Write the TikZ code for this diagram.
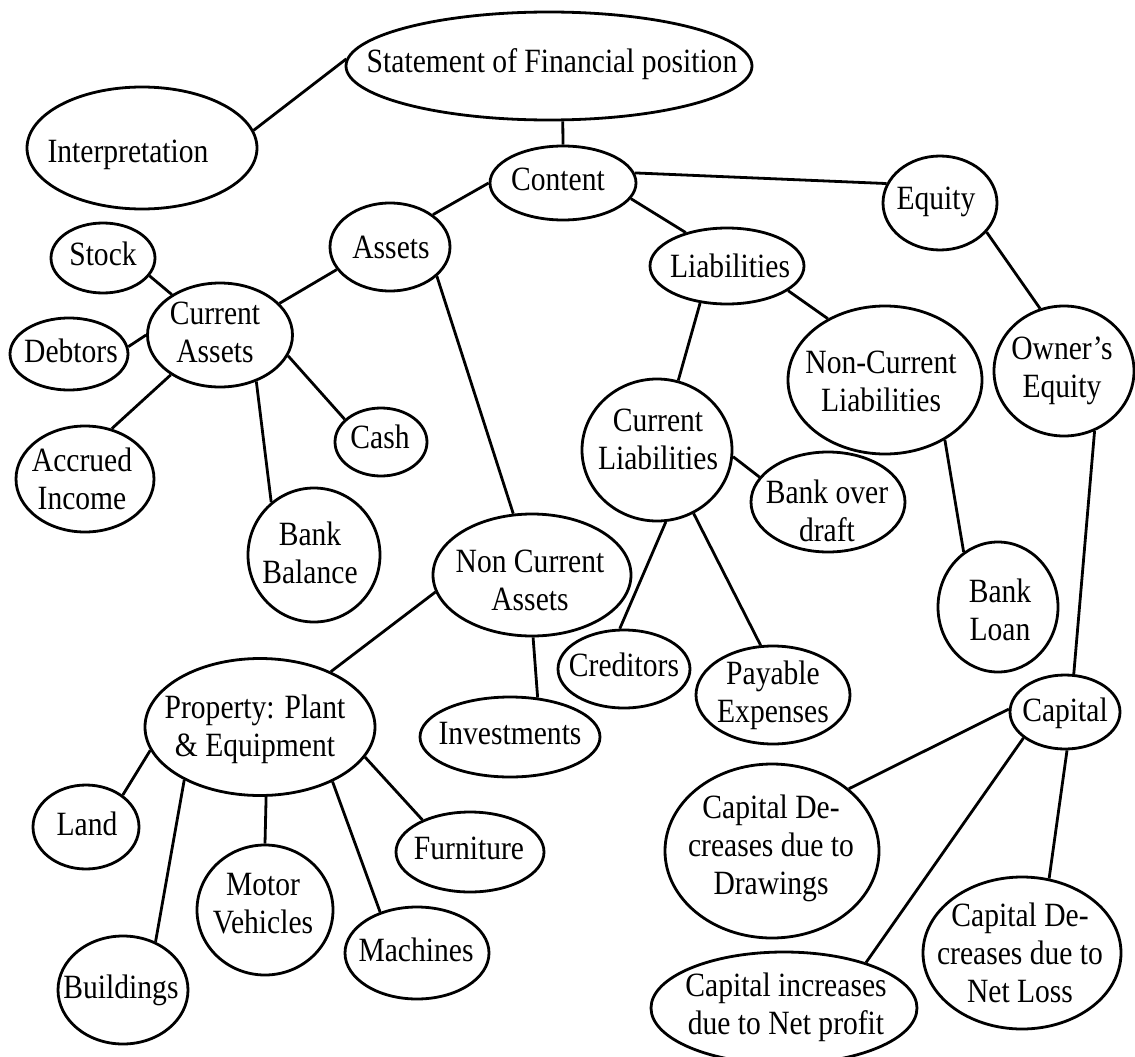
\documentclass[tikz,border=0pt]{standalone}
\usepackage{fontspec}
\setmainfont{Liberation Serif}[FakeStretch=0.87]
\usetikzlibrary{shapes.geometric}

% one bubble: name, centre, width, height, text position, text
\newcommand{\mkbubble}[6]{%
  \node[bubble={#3}{#4}] (#1) at (#2) {};
  \node[lbl] (#1-t) at (#5) {#6};}

\begin{document}
\begin{tikzpicture}[x=1pt,y=-1pt,
  bubble/.style 2 args={draw, ellipse, line width=2.8pt,
    minimum width=#1, minimum height=#2, inner sep=0pt},
  lbl/.style={align=center, font=\fontsize{34}{38}\selectfont, inner sep=0pt},
  link/.style={line width=2.8pt}]
\useasboundingbox (0,0) rectangle (1135,1057);

% top of the map
\mkbubble{sfp}{549,66}{406}{108}{552,64}{Statement of Financial position}
\mkbubble{interp}{142,148}{230}{122}{128,155}{Interpretation}
\mkbubble{content}{563,183}{146}{74}{558,179}{Content}
\mkbubble{assets}{390,247}{120}{88}{391,247}{Assets}
\mkbubble{liab}{727,266}{154}{76}{730,266}{Liabilities}
\mkbubble{equity}{940,203}{114}{94}{936,202}{Equity}

% assets branch
\mkbubble{stock}{103,258}{104}{70}{103,254}{Stock}
\mkbubble{curassets}{220,335}{145}{104}{215,332}{Current\\Assets}
\mkbubble{debtors}{69,354}{118}{72}{71,351}{Debtors}
\mkbubble{accrued}{85,479}{138}{106}{82,479}{Accrued\\Income}
\mkbubble{cash}{381,442}{92}{68}{380,437}{Cash}
\mkbubble{bankbal}{314,555}{132}{134}{310,553}{Bank\\Balance}
\mkbubble{nca}{532,575}{198}{122}{530,580}{Non Current\\Assets}
\mkbubble{invest}{510,737}{180}{80}{510,734}{Investments}
\mkbubble{ppe}{260,727}{230}{137}{255,729}{Property: Plant\\\& Equipment}
\mkbubble{land}{86,827}{106}{84}{87,824}{Land}
\mkbubble{buildings}{123,990}{130}{108}{121,990}{Buildings}
\mkbubble{motor}{265,910}{136}{130}{263,904}{Motor\\Vehicles}
\mkbubble{machines}{417,953}{144}{92}{416,950}{Machines}
\mkbubble{furniture}{470,852}{148}{80}{469,848}{Furniture}

% liabilities branch
\mkbubble{curliab}{657,450}{150}{142}{658,439}{Current\\Liabilities}
\mkbubble{ncl}{885,380}{194}{148}{881,381}{Non-Current\\Liabilities}
\mkbubble{bod}{828,502}{154}{100}{827,511}{Bank over\\draft}
\mkbubble{bankloan}{998,607}{120}{130}{1000,610}{Bank\\Loan}
\mkbubble{creditors}{624,669}{132}{78}{624,665}{Creditors}
\mkbubble{payable}{773,695}{154}{98}{773,695}{Payable\\Expenses}

% equity branch
\mkbubble{owner}{1064,371}{140}{130}{1062,371}{Owner’s\\Equity}
\mkbubble{capital}{1065,712}{110}{74}{1065,713}{Capital}
\mkbubble{drawings}{772,851}{214}{174}{771,848}{Capital De-\\creases due to\\Drawings}
\mkbubble{netloss}{1022,953}{198}{152}{1020,953}{Capital De-\\creases due to\\Net Loss}
\mkbubble{netprofit}{784,1008}{266}{112}{786,1007}{Capital increases\\due to Net profit}

% connectors
\draw[link] (interp.9) -- (sfp.178);
\draw[link] (sfp.-76) -- (content.90);
\draw[link] (content.180) -- (assets.37);
\draw[link] (content.-13) -- (liab.141);
\draw[link] (content.8) -- (equity.160);
\draw[link] (assets.203) -- (curassets.28);
\draw[link] (assets.-32) -- (nca.107);
\draw[link] (stock.-21) -- (curassets.140);
\draw[link] (debtors.7) -- (curassets.180);
\draw[link] (curassets.219) -- (accrued.62);
\draw[link] (curassets.-52) -- (bankbal.129);
\draw[link] (curassets.-17) -- (cash.148);
\draw[link] (liab.234) -- (curliab.73);
\draw[link] (liab.-22) -- (ncl.133);
\draw[link] (equity.-32) -- (owner.111);
\draw[link] (ncl.-45) -- (bankloan.122);
\draw[link] (owner.-63) -- (capital.77);
\draw[link] (curliab.-5) -- (bod.160);
\draw[link] (curliab.-83) -- (creditors.96);
\draw[link] (curliab.-60) -- (payable.104);
\draw[link] (nca.190) -- (ppe.38);
\draw[link] (nca.-89) -- (invest.55);
\draw[link] (ppe.192) -- (land.41);
\draw[link] (ppe.215) -- (buildings.56);
\draw[link] (ppe.-85) -- (motor.90);
\draw[link] (ppe.-37) -- (machines.132);
\draw[link] (ppe.-16) -- (furniture.146);
\draw[link] (capital.177) -- (drawings.39);
\draw[link] (capital.212) -- (netprofit.29);
\draw[link] (capital.-87) -- (netloss.70);
\end{tikzpicture}
\end{document}
